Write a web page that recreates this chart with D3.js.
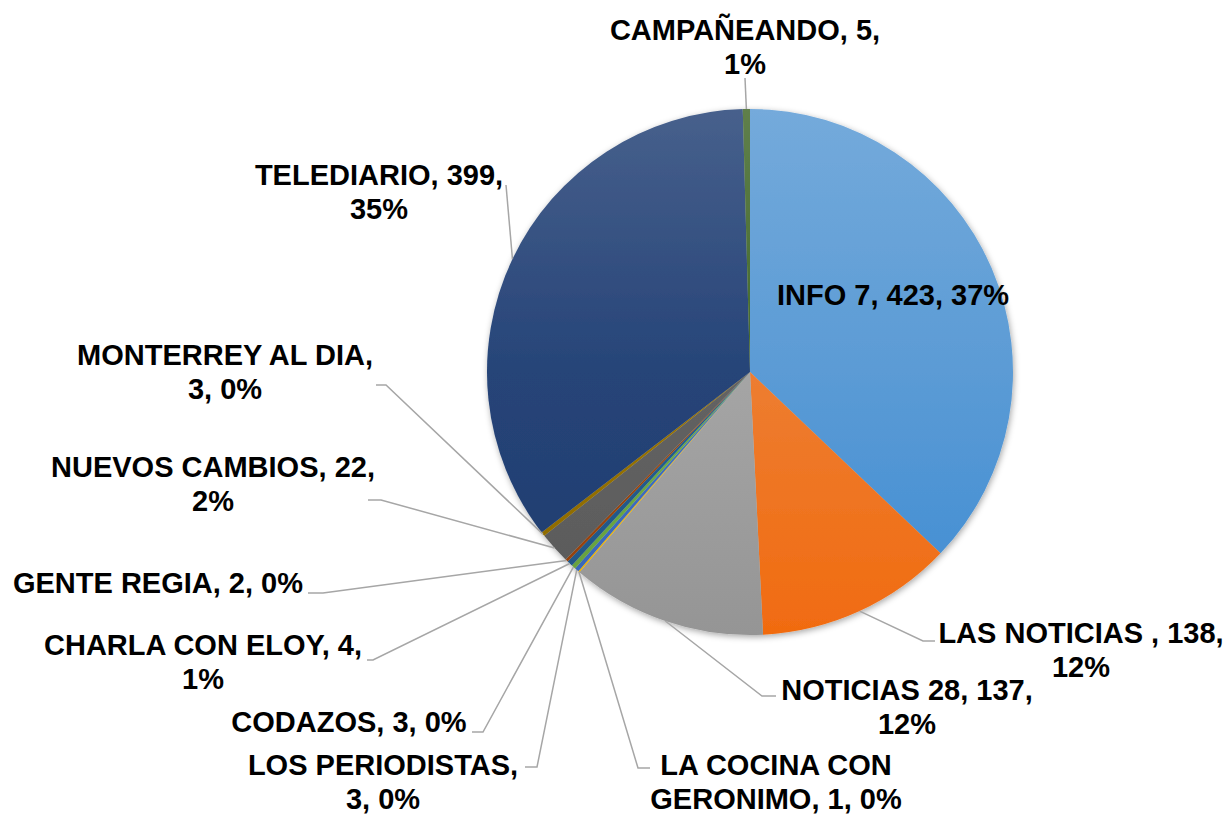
<!DOCTYPE html>
<html>
<head>
<meta charset="utf-8">
<script src="https://cdn.jsdelivr.net/npm/d3@7"></script>
<style>
  body { margin: 0; background: #fff; }
  svg { display: block; }
  text { font-family: "Liberation Sans", Arial, sans-serif; font-weight: bold; fill: #000; }
</style>
</head>
<body>
<svg width="1230" height="814"></svg>
<script>
const names = ['INFO 7', 'LAS NOTICIAS ', 'NOTICIAS 28', 'LA COCINA CON GERONIMO', 'LOS PERIODISTAS',
  'CODAZOS', 'CHARLA CON ELOY', 'GENTE REGIA', 'NUEVOS CAMBIOS', 'MONTERREY AL DIA',
  'TELEDIARIO', 'CAMPAÑEANDO'];
const values = [423, 138, 137, 1, 3, 3, 4, 2, 22, 3, 399, 5];
const colors = ['#5B9BD5', '#ED7D31', '#A5A5A5', '#FFC000', '#4472C4', '#70AD47',
  '#255E91', '#9E480E', '#636363', '#997300', '#264478', '#43682B'];

// label layout: centre x, first line y, elbow of leader, end of the short horizontal, words on line 1
const labelLayout = [
  { x: 893, y: 295, inside: true, words: 99 },
  { x: 1081, y: 633, ex: 923, ey: 641, hx: 935, words: 4 },
  { x: 907, y: 690, ex: 762, ey: 696, hx: 776, words: 3 },
  { x: 776, y: 765, ex: 638, ey: 768, hx: 650, words: 3 },
  { x: 383, y: 765, ex: 537, ey: 767, hx: 525, words: 2 },
  { x: 349, y: 722, ex: 483, ey: 732, hx: 472, words: 99 },
  { x: 203, y: 645, ex: 373, ey: 660, hx: 367, words: 4 },
  { x: 158, y: 583, ex: 323, ey: 593, hx: 308, words: 99 },
  { x: 213, y: 467, ex: 381, ey: 500, hx: 368, words: 3 },
  { x: 225, y: 355, ex: 386, ey: 385, hx: 376, words: 3 },
  { x: 379, y: 175, ex: 506, ey: 185, hx: 506, words: 2 },
  { x: 745, y: 30, ex: 745, ey: 78, hx: 745, words: 2 }
];

const cx = 750, cy = 372, radius = 263;
const lineGap = 34;

const svg = d3.select('svg');
const data = names.map((name, i) => ({ name, value: values[i], color: colors[i], layout: labelLayout[i] }));

// Excel style percentages: largest remainder so they add up to 100
const total = d3.sum(values);
const raw = values.map(v => v / total * 100);
const pct = raw.map(Math.floor);
const missing = 100 - d3.sum(pct);
d3.range(values.length)
  .sort((a, b) => (raw[b] - pct[b]) - (raw[a] - pct[a]))
  .slice(0, missing)
  .forEach(i => pct[i] += 1);

const defs = svg.append('defs');
const shadow = defs.append('filter').attr('id', 'shadow')
  .attr('x', '-10%').attr('y', '-10%').attr('width', '120%').attr('height', '120%');
shadow.append('feDropShadow')
  .attr('dx', 1).attr('dy', 2).attr('stdDeviation', 3)
  .attr('flood-color', '#000').attr('flood-opacity', 0.35);

const shade = c => {
  const h = d3.hsl(c);
  h.l *= 0.9;
  h.s = Math.min(1, h.s * 1.06);
  return h.formatHex();
};

// vertical gradient over the whole pie, lighter at the top
data.forEach((d, i) => {
  const grad = defs.append('linearGradient')
    .attr('id', `grad${i}`)
    .attr('gradientUnits', 'userSpaceOnUse')
    .attr('x1', 0).attr('y1', -radius).attr('x2', 0).attr('y2', radius);
  grad.append('stop').attr('offset', 0).attr('stop-color', d3.interpolateRgb(d.color, '#fff')(0.15));
  grad.append('stop').attr('offset', 0.5).attr('stop-color', d.color);
  grad.append('stop').attr('offset', 1).attr('stop-color', shade(d.color));
});

const pie = d3.pie().value(d => d.value).sort(null);
const arc = d3.arc().innerRadius(0).outerRadius(radius);
const arcs = pie(data);

const pieG = svg.append('g')
  .attr('transform', `translate(${cx},${cy})`)
  .attr('filter', 'url(#shadow)');

pieG.selectAll('path').data(arcs)
  .enter().append('path')
  .attr('d', arc)
  .attr('fill', (d, i) => `url(#grad${i})`);

// leader lines
const edgePoint = d => {
  const a = (d.startAngle + d.endAngle) / 2;
  return [cx + radius * Math.sin(a), cy - radius * Math.cos(a)];
};

svg.append('g').selectAll('path')
  .data(arcs.filter(d => !d.data.layout.inside))
  .enter().append('path')
  .attr('fill', 'none')
  .attr('stroke', '#A6A6A6')
  .attr('stroke-width', 1.5)
  .attr('d', d => {
    const [sx, sy] = edgePoint(d);
    const L = d.data.layout;
    return `M${sx},${sy}L${L.ex},${L.ey}L${L.hx},${L.ey}`;
  });

// labels
const labels = svg.append('g').selectAll('text')
  .data(arcs)
  .enter().append('text')
  .attr('text-anchor', 'middle')
  .attr('font-size', 29)
  .attr('x', d => d.data.layout.x)
  .attr('y', d => d.data.layout.y);

labels.each(function (d) {
  const words = `${d.data.name}, ${d.data.value}, ${pct[d.index]}%`.split(' ');
  const n = d.data.layout.words;
  const lines = [words.slice(0, n).join(' '), words.slice(n).join(' ')].filter(s => s.trim() !== '');
  d3.select(this).selectAll('tspan').data(lines)
    .enter().append('tspan')
    .attr('x', d.data.layout.x)
    .attr('dy', (l, j) => j === 0 ? '0.35em' : lineGap)
    .text(l => l.trim());
});
</script>
</body>
</html>
